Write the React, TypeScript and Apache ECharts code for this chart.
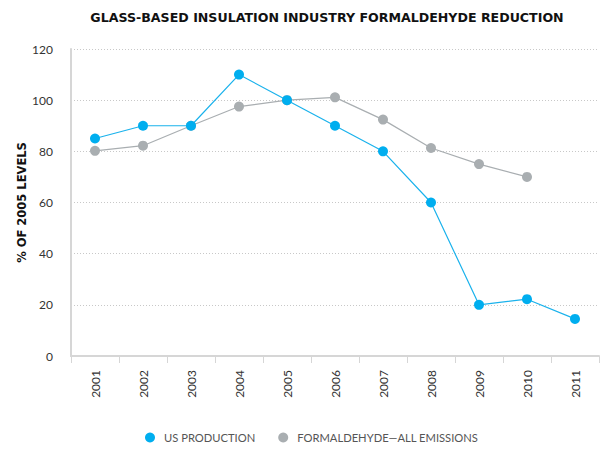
import React, { useEffect, useRef } from "react";
import * as echarts from "echarts";

const years = ["2001", "2002", "2003", "2004", "2005", "2006", "2007", "2008", "2009", "2010", "2011"];
const usProduction = [85, 90, 90, 110, 100, 90, 80, 60, 20, 22.2, 14.5];
const formaldehydeEmissions = [80.2, 82.2, 90, 97.5, 100, 101.1, 92.4, 81.3, 75, 70, null];
const yTicks = { min: 0, max: 120, interval: 20 };

const FONT = "Lato, 'DejaVu Sans', sans-serif";
const BOLD = "'DejaVu Sans', sans-serif";

export default function App() {
  const ref = useRef<HTMLDivElement>(null);
  useEffect(() => {
    if (!ref.current) return;
    const chart = echarts.init(ref.current, null, { renderer: "svg" });
    chart.setOption({
      animation: false,
      backgroundColor: "#ffffff",
      title: {
        text: "GLASS-BASED INSULATION INDUSTRY FORMALDEHYDE REDUCTION",
        left: 322,
        textAlign: "center",
        top: 6,
        textStyle: { fontFamily: BOLD, fontWeight: "bold", fontSize: 12.6, color: "#111" },
      },
      legend: {
        bottom: 2,
        left: 140,
        itemGap: 23,
        icon: "circle",
        itemWidth: 18,
        itemHeight: 10,
        textStyle: { fontFamily: FONT, fontSize: 11.2, color: "#555" },
        data: ["US PRODUCTION", "FORMALDEHYDE—ALL EMISSIONS"],
      },
      grid: { left: 71, right: 6, top: 49, bottom: 94, containLabel: false },
      xAxis: {
        type: "category",
        data: years,
        boundaryGap: true,
        axisLine: { lineStyle: { color: "#d6d6d6", width: 2 } },
        axisTick: { show: true, length: 7, lineStyle: { color: "#d6d6d6", width: 1 } },
        axisLabel: { rotate: 90, fontFamily: FONT, fontSize: 12, color: "#333", margin: 14 },
        splitLine: { show: false },
      },
      yAxis: {
        type: "value",
        min: yTicks.min,
        max: yTicks.max,
        interval: yTicks.interval,
        name: "% OF 2005 LEVELS",
        nameLocation: "middle",
        nameGap: 43,
        nameMoveOverlap: false,
        nameRotate: 90,
        nameTextStyle: { fontFamily: BOLD, fontWeight: "bold", fontSize: 11.5, color: "#111" },
        axisLine: { show: true, lineStyle: { color: "#d6d6d6", width: 2 } },
        axisTick: { show: false },
        axisLabel: { fontFamily: FONT, fontSize: 12, color: "#333", margin: 18 },
        splitLine: { show: true, lineStyle: { color: "#c8c8c8", type: [1, 2], width: 1 } },
      },
      series: [
        {
          name: "FORMALDEHYDE—ALL EMISSIONS",
          type: "line",
          data: formaldehydeEmissions,
          symbol: "circle",
          symbolSize: 10,
          itemStyle: { color: "#a9aeb1" },
          lineStyle: { color: "#a9aeb1", width: 1.2 },
          z: 2,
        },
        {
          name: "US PRODUCTION",
          type: "line",
          data: usProduction,
          symbol: "circle",
          symbolSize: 10,
          itemStyle: { color: "#00aeef" },
          lineStyle: { color: "#1ab2ec", width: 1.2 },
          z: 3,
        },
      ],
    });
    return () => chart.dispose();
  }, []);
  return (
    <div
      ref={ref}
      style={{ position: "absolute", left: 0, top: 0, width: 605, height: 450 }}
    />
  );
}
